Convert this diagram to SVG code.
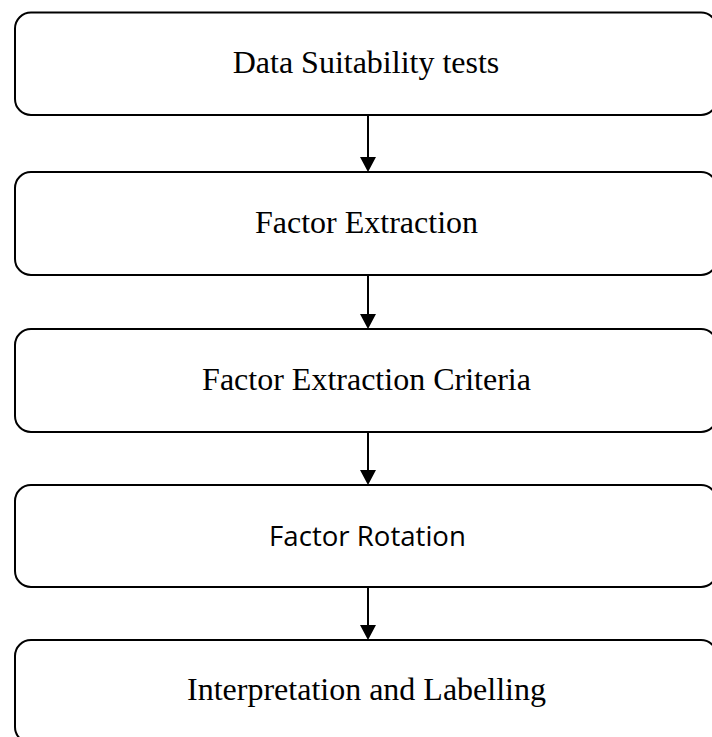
<svg xmlns="http://www.w3.org/2000/svg" width="712" height="737" viewBox="0 0 712 737">
  <style>
    .box { fill: #ffffff; stroke: #000000; stroke-width: 2; }
    .serif { font-family: "Liberation Serif", "Times New Roman", serif; font-size: 32px; fill: #000000; text-anchor: middle; }
    .sans { font-family: "Open Sans", "Liberation Sans", sans-serif; font-size: 27.6px; fill: #000000; text-anchor: middle; }
    .link { stroke: #000000; stroke-width: 2; fill: none; }
    .head { fill: #000000; }
  </style>
  <rect width="712" height="737" fill="#ffffff"/>

  <g id="connectors">
    <path class="link" d="M368,115 V157" />
    <polygon class="head" points="360,157 376,157 368,172"/>
    <path class="link" d="M368,275 V314" />
    <polygon class="head" points="360,314 376,314 368,329"/>
    <path class="link" d="M368,432 V470" />
    <polygon class="head" points="360,470 376,470 368,485"/>
    <path class="link" d="M368,587 V625" />
    <polygon class="head" points="360,625 376,625 368,640"/>
  </g>

  <g id="data-suitability">
    <rect class="box" x="15" y="12.5" width="702" height="102.5" rx="16"/>
    <text class="serif" x="366" y="73">Data Suitability tests</text>
  </g>

  <g id="factor-extraction">
    <rect class="box" x="15" y="172" width="702" height="103" rx="16"/>
    <text class="serif" x="366.5" y="233">Factor Extraction</text>
  </g>

  <g id="extraction-criteria">
    <rect class="box" x="15" y="329" width="702" height="103" rx="16"/>
    <text class="serif" x="366.5" y="390">Factor Extraction Criteria</text>
  </g>

  <g id="factor-rotation">
    <rect class="box" x="15" y="485" width="702" height="102" rx="16"/>
    <text class="sans" x="367.5" y="546">Factor Rotation</text>
  </g>

  <g id="interpretation">
    <rect class="box" x="15" y="640" width="702" height="103" rx="16"/>
    <text class="serif" x="366.5" y="700">Interpretation and Labelling</text>
  </g>
</svg>
